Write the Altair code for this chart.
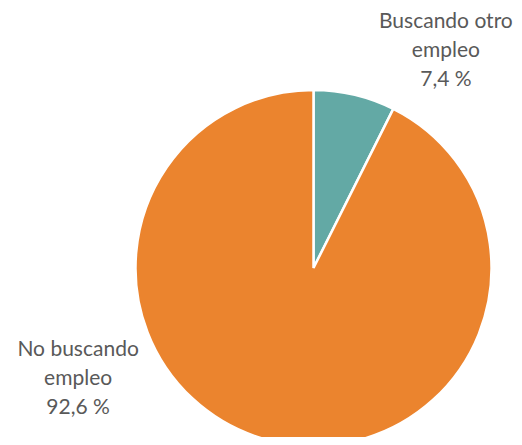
import altair as alt
import pandas as pd

categories = ["Buscando otro empleo", "No buscando empleo"]
labels = ["Buscando otro\nempleo\n7,4 %", "No buscando\nempleo\n92,6 %"]
values = [7.4, 92.6]
order = [0, 1]
colors = ["#63A9A5", "#EB842E"]

df = pd.DataFrame({"cat": categories, "label": labels, "value": values, "idx": order})

CX, CY = 305.5, 260
R = 178

base = alt.Chart(df).encode(
    theta=alt.Theta("value:Q", stack=True, scale=alt.Scale(domain=[0, 100])),
    order=alt.Order("idx:Q"),
    x=alt.value(CX),
    y=alt.value(CY),
)

pie = base.mark_arc(radius=R, stroke="white", strokeWidth=2.5).encode(
    color=alt.Color("cat:N", scale=alt.Scale(domain=categories, range=colors), legend=None)
)

def label_layer(cat, dx, dy):
    return base.transform_calculate(
        lab=f"datum.cat === '{cat}' ? datum.label : ''"
    ).mark_text(
        radius=210, dx=dx, dy=dy, lineBreak="\n", align="center", baseline="middle",
        font="Lato", fontSize=21, lineHeight=29, color="#595959"
    ).encode(text="lab:N")

t1 = label_layer(categories[0], 84, -42)
t2 = label_layer(categories[1], -187, -122)

chart = alt.layer(pie, t1, t2).properties(
    width=506, height=429, padding=0, autosize=alt.AutoSizeParams(type="none")
).configure_view(stroke=None)

chart.save("out.html", embed_options={"renderer": "svg", "actions": False})
